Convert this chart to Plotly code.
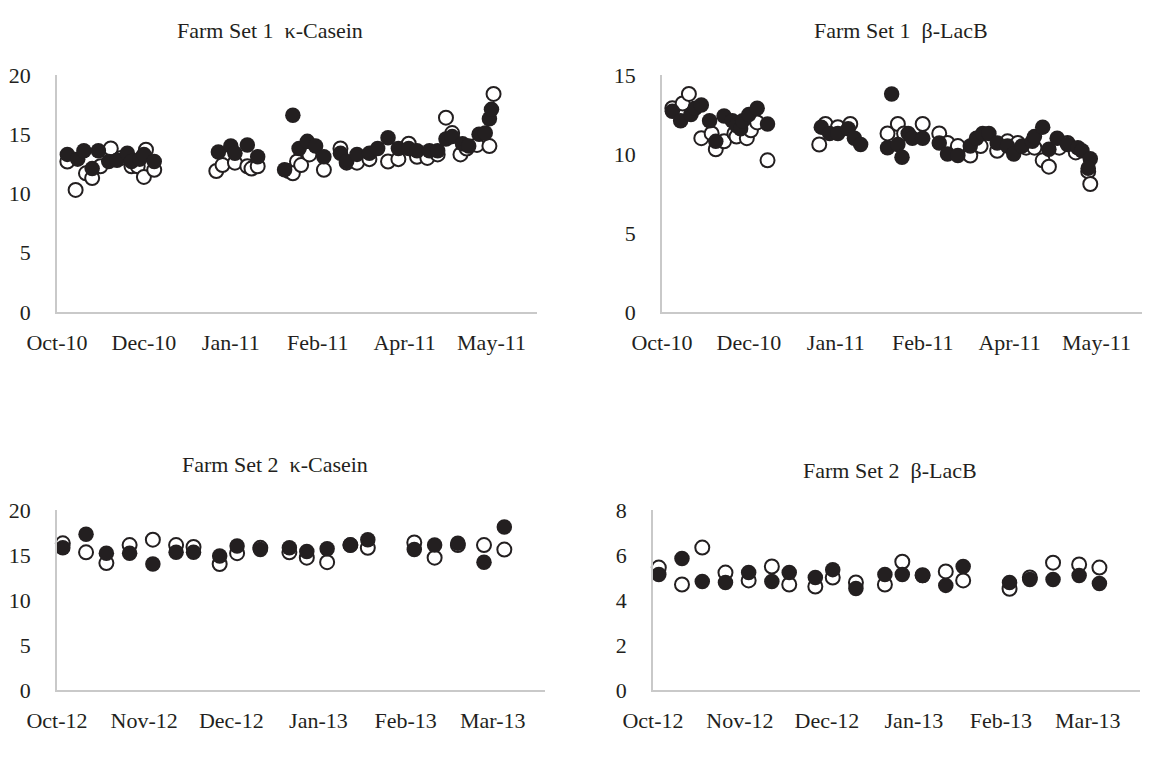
import pandas as pd
import plotly.graph_objects as go

# ---------------- data ----------------
# Farm Set 1: sampling day = days after 20 Oct 2010
fs1_start = "2010-10-20"
fs1_tick_labels = ["Oct-10", "Dec-10", "Jan-11", "Feb-11", "Apr-11", "May-11"]

fs1_kcas_filled_day = [5, 10, 13, 17, 20, 25, 29, 34, 36, 40, 42, 47,
                       78, 84, 86, 92, 97,
                       110, 114, 117, 121, 125, 129, 137, 140, 145, 151, 155, 160, 165, 170,
                       174, 180, 184, 188, 191, 196, 199, 204, 207, 209, 210]
fs1_kcas_filled = [13.3, 12.9, 13.6, 12.1, 13.6, 12.7, 12.8, 13.4, 12.7, 12.9, 13.3, 12.7,
                   13.5, 14.0, 13.4, 14.1, 13.1,
                   12.0, 16.6, 13.8, 14.4, 14.0, 13.1, 13.4, 12.7, 13.3, 13.4, 13.8, 14.7, 13.8, 13.8,
                   13.6, 13.6, 13.6, 14.6, 14.8, 14.2, 14.0, 15.0, 15.1, 16.3, 17.1]
fs1_kcas_open_day = [5, 9, 14, 17, 21, 26, 31, 36, 39, 43, 42, 47,
                     77, 80, 86, 92, 94, 97,
                     112, 116, 114, 118, 122, 129, 137, 140, 145, 151, 160, 165, 170, 174,
                     179, 184, 188, 191, 195, 198, 203, 209, 211]
fs1_kcas_open = [12.7, 10.3, 11.7, 11.3, 12.3, 13.8, 13.0, 12.3, 12.3, 13.7, 11.4, 12.0,
                 11.9, 12.4, 12.6, 12.3, 12.1, 12.3,
                 11.9, 12.7, 11.7, 12.4, 13.3, 12.0, 13.8, 12.6, 12.6, 12.9, 12.7, 12.9, 14.2, 13.1,
                 13.0, 13.3, 16.4, 15.1, 13.3, 13.8, 14.1, 14.0, 18.4]

fs1_lacb_filled_day = [5, 9, 14, 16, 19, 23, 26, 30, 34, 36, 38, 39, 42, 46, 51,
                       77, 81, 85, 90, 93, 96,
                       109, 111, 114, 116, 119, 121, 126, 134, 138, 143, 149, 152, 155, 158,
                       162, 167, 170, 174, 179, 180, 184, 187, 191, 196, 201, 203, 207, 206]
fs1_lacb_filled = [12.7, 12.1, 12.5, 12.9, 13.1, 12.1, 10.8, 12.4, 12.1, 11.8, 11.6, 12.1, 12.5, 12.9, 11.9,
                   11.7, 11.3, 11.3, 11.6, 11.0, 10.6,
                   10.4, 13.8, 10.6, 9.8, 11.3, 11.0, 11.0, 10.7, 10.0, 9.9, 10.5, 11.0, 11.3, 11.3,
                   10.7, 10.5, 10.0, 10.5, 10.8, 11.1, 11.7, 10.3, 11.0, 10.6, 10.4, 10.2, 9.7, 9.1]
fs1_lacb_open_day = [5, 10, 13, 19, 24, 26, 30, 35, 36, 41, 43, 46, 51,
                     76, 79, 85, 91,
                     109, 114, 117, 126, 134, 138, 143, 149, 154, 162, 167, 172, 176, 180,
                     184, 187, 192, 196, 200, 206, 207]
fs1_lacb_open = [12.9, 13.2, 13.8, 11.0, 11.3, 10.3, 10.8, 11.3, 11.1, 11.0, 11.5, 12.0, 9.6,
                 10.6, 11.9, 11.7, 11.9,
                 11.3, 11.9, 11.3, 11.9, 11.3, 10.7, 10.5, 9.9, 10.5, 10.2, 10.8, 10.7, 10.4, 10.4,
                 9.6, 9.2, 10.4, 10.7, 10.1, 8.9, 8.1]

# Farm Set 2: sampling day = days after 5 Oct 2012
fs2_start = "2012-10-05"
fs2_tick_labels = ["Oct-12", "Nov-12", "Dec-12", "Jan-13", "Feb-13", "Mar-13"]
fs2_day = [2, 10, 17, 25, 33, 41, 47, 56, 62, 70, 80, 86, 93, 101, 107, 123, 130, 138, 147, 154]

fs2_kcas_filled = [15.8, 17.3, 15.2, 15.2, 14.0, 15.3, 15.3, 14.9, 16.0, 15.6,
                   15.8, 15.4, 15.7, 16.1, 16.7, 15.6, 16.1, 16.3, 14.2, 18.1]
fs2_kcas_open = [16.3, 15.3, 14.1, 16.1, 16.7, 16.1, 15.9, 14.0, 15.2, 15.8,
                 15.3, 14.7, 14.2, 16.1, 15.8, 16.4, 14.7, 16.1, 16.1, 15.6]

fs2_lacb_filled = [5.13, 5.84, 4.82, 4.78, 5.22, 4.82, 5.22, 5.0, 5.35, 4.51,
                   5.13, 5.13, 5.09, 4.65, 5.49, 4.78, 4.91, 4.91, 5.09, 4.73]
fs2_lacb_open = [5.44, 4.69, 6.33, 5.22, 4.87, 5.49, 4.69, 4.6, 5.0, 4.78,
                 4.69, 5.7, 5.1, 5.27, 4.87, 4.5, 5.0, 5.66, 5.58, 5.44]

titles = ["Farm Set 1  \u03ba-Casein", "Farm Set 1  \u03b2-LacB",
          "Farm Set 2  \u03ba-Casein", "Farm Set 2  \u03b2-LacB"]

# ---------------- helpers ----------------
def to_dates(start, days):
    return pd.Timestamp(start) + pd.to_timedelta(days, unit="D")

INK = "#231F20"
AXIS = "#C9C9C9"
FONT = "Liberation Serif"
FS = 22

fig = go.Figure()

panels = [
    (fs1_start, 42, 232, fs1_kcas_open_day, fs1_kcas_open, fs1_kcas_filled_day, fs1_kcas_filled,
     20, 5, [57 / 1163, 537 / 1163], [1 - 312 / 760, 1 - 75 / 760], fs1_tick_labels),
    (fs1_start, 42, 232, fs1_lacb_open_day, fs1_lacb_open, fs1_lacb_filled_day, fs1_lacb_filled,
     15, 5, [662 / 1163, 1142 / 1163], [1 - 312 / 760, 1 - 75 / 760], fs1_tick_labels),
    (fs2_start, 30, 168, fs2_day, fs2_kcas_open, fs2_day, fs2_kcas_filled,
     20, 5, [57 / 1163, 545 / 1163], [1 - 690 / 760, 1 - 510 / 760], fs2_tick_labels),
    (fs2_start, 30, 168, fs2_day, fs2_lacb_open, fs2_day, fs2_lacb_filled,
     8, 2, [653 / 1163, 1140 / 1163], [1 - 690 / 760, 1 - 510 / 760], fs2_tick_labels),
]

layout = {}
for i, (start, step, span, od, ov, fd, fv, ymax, dt, xd, yd, labels) in enumerate(panels, start=1):
    xa = "x" if i == 1 else f"x{i}"
    ya = "y" if i == 1 else f"y{i}"
    fig.add_trace(go.Scatter(
        x=to_dates(start, od), y=ov, mode="markers", xaxis=xa, yaxis=ya,
        marker=dict(symbol="circle", size=14, color="white", line=dict(color=INK, width=2)),
        showlegend=False, cliponaxis=False))
    fig.add_trace(go.Scatter(
        x=to_dates(start, fd), y=fv, mode="markers", xaxis=xa, yaxis=ya,
        marker=dict(symbol="circle", size=15.5, color=INK, line=dict(color=INK, width=0)),
        showlegend=False, cliponaxis=False))
    tickdates = [pd.Timestamp(start) + pd.Timedelta(days=step * k) for k in range(len(labels))]
    layout["xaxis" if i == 1 else f"xaxis{i}"] = dict(
        type="date", domain=xd, anchor=ya, automargin=False,
        range=[pd.Timestamp(start), pd.Timestamp(start) + pd.Timedelta(days=span)],
        tickvals=tickdates, ticktext=labels, showgrid=False, zeroline=False,
        showline=True, linecolor=AXIS, linewidth=1.5, ticks="",
        ticklabelstandoff=10, tickfont=dict(family=FONT, size=FS, color=INK))
    layout["yaxis" if i == 1 else f"yaxis{i}"] = dict(
        domain=yd, anchor=xa, range=[0, ymax], dtick=dt, tick0=0, automargin=False,
        showgrid=False, zeroline=False, showline=True, linecolor=AXIS, linewidth=1.5,
        ticks="", ticklabelstandoff=20, tickfont=dict(family=FONT, size=FS, color=INK))

title_pos = [(270, 30), (901, 30), (275, 465), (890, 470)]
annotations = []
for t, (px, py) in zip(titles, title_pos):
    annotations.append(dict(text=t, x=px / 1163, y=1 - py / 760, xref="paper", yref="paper",
                            xanchor="center", yanchor="middle", showarrow=False,
                            font=dict(family=FONT, size=FS, color=INK)))

fig.update_layout(
    width=1163, height=760, margin=dict(l=0, r=0, t=0, b=0, autoexpand=False),
    paper_bgcolor="white", plot_bgcolor="white",
    annotations=annotations, **layout)

fig.write_html("out.html")
